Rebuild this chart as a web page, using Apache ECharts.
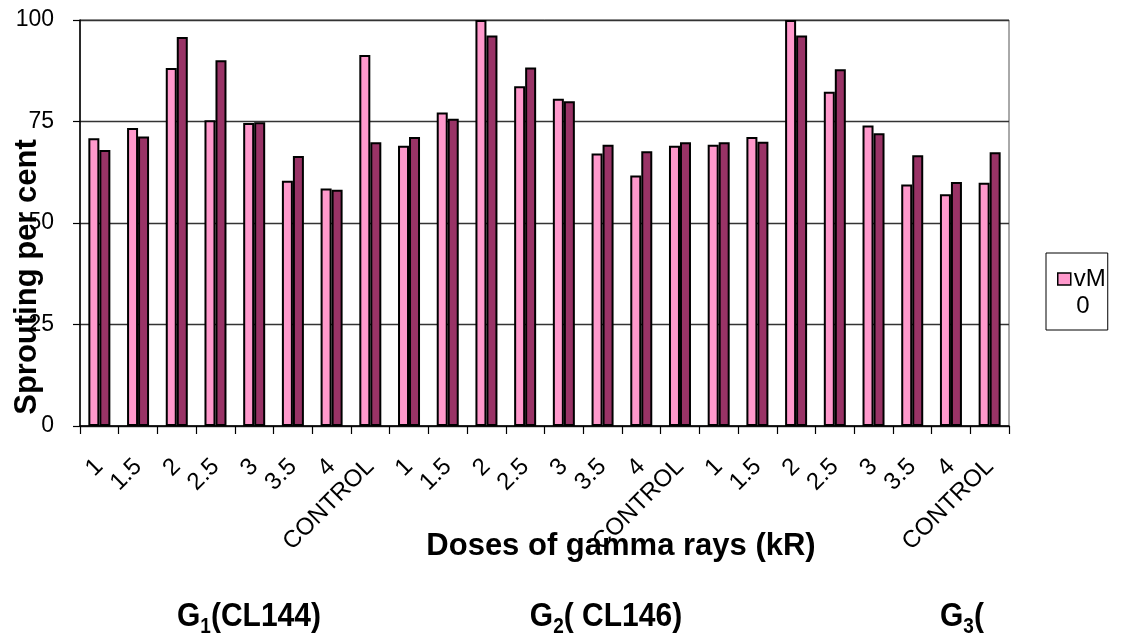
<!DOCTYPE html>
<html>
<head>
<meta charset="utf-8">
<script src="https://cdn.jsdelivr.net/npm/echarts@6/dist/echarts.min.js"></script>
<style>
html,body{margin:0;padding:0;background:#fff;}
#main{width:1122px;height:635px;}
</style>
</head>
<body>
<div id="main"></div>
<script>
// ---- data ----
var doses = ['1', '1.5', '2', '2.5', '3', '3.5', '4', 'CONTROL'];
var categories = doses.concat(doses, doses);
var seriesNames = ['vM0', 'vM1'];
var lightValues = [
  70.9, 73.4, 88.2, 75.3, 74.6, 60.4, 58.5, 91.4,
  69.0, 77.2, 100, 83.7, 80.6, 67.1, 61.7, 69.0,
  69.3, 71.2, 100, 82.3, 74.0, 59.5, 57.1, 59.9
];
var darkValues = [
  68.0, 71.3, 95.8, 90.1, 74.8, 66.5, 58.2, 69.9,
  71.2, 75.7, 96.2, 88.3, 80.0, 69.3, 67.7, 69.9,
  69.9, 70.0, 96.2, 87.9, 72.1, 66.7, 60.1, 67.4
];
var yTicks = [0, 25, 50, 75, 100];
var yTitle = 'Sprouting per cent';
var xTitle = 'Doses of gamma rays (kR)';
var groupLabels = [
  {g: 'G', sub: '1', rest: '(CL144)'},
  {g: 'G', sub: '2', rest: '( CL146)'},
  {g: 'G', sub: '3', rest: '('}
];

var FONT = 'Liberation Sans, Arial, sans-serif';
var chart = echarts.init(document.getElementById('main'), null, {renderer: 'canvas'});

function groupText(i) {
  var gl = groupLabels[i];
  return '{g|' + gl.g + '}{s|' + gl.sub + '}{g|' + gl.rest + '}';
}
var groupRich = {
  g: {fontFamily: FONT, fontWeight: 'bold', fontSize: 30, color: '#000', lineHeight: 34, verticalAlign: 'bottom'},
  s: {fontFamily: FONT, fontWeight: 'bold', fontSize: 19, color: '#000', lineHeight: 34, verticalAlign: 'bottom', padding: [0, 0, -4, 0]}
};

var option = {
  backgroundColor: '#fff',
  animation: false,
  grid: {
    left: 80, right: 113, top: 20, bottom: 209,
    show: true, borderColor: '#555', borderWidth: 1, backgroundColor: 'transparent'
  },
  legend: {
    data: [seriesNames[0]],
    left: 1046, top: 253,
    orient: 'vertical',
    backgroundColor: '#fff',
    borderColor: '#000', borderWidth: 1,
    padding: [14, 2, 39, 11],
    itemWidth: 13, itemHeight: 12,
    icon: 'rect',
    itemStyle: {borderColor: '#000', borderWidth: 1.5},
    formatter: function (n) { return 'vM'; },
    textStyle: {fontFamily: FONT, fontSize: 24, color: '#000', padding: [0, 0, 0, -2]}
  },
  xAxis: {
    type: 'category',
    data: categories,
    boundaryGap: true,
    axisLine: {lineStyle: {color: '#000', width: 1.5}},
    axisTick: {show: true, interval: 0, length: 8, lineStyle: {color: '#000', width: 1.2}},
    axisLabel: {
      interval: 0, rotate: 45, margin: 37,
      fontFamily: FONT, fontSize: 24, color: '#000'
    },
    splitLine: {show: false}
  },
  yAxis: {
    type: 'value',
    min: yTicks[0], max: yTicks[yTicks.length - 1], interval: 25,
    axisLine: {show: true, lineStyle: {color: '#000', width: 1.5}},
    axisTick: {show: true, length: 7, lineStyle: {color: '#000', width: 1.2}},
    axisLabel: {margin: 26, fontFamily: FONT, fontSize: 23, color: '#000'},
    splitLine: {show: true, lineStyle: {color: '#333', width: 1.3}}
  },
  series: [
    {
      name: seriesNames[0], type: 'bar', data: lightValues,
      barWidth: 11, barGap: '0%',
      itemStyle: {color: '#FF99CC', borderColor: '#000', borderWidth: 2}
    },
    {
      name: seriesNames[1], type: 'bar', data: darkValues,
      barWidth: 11, barGap: '0%',
      itemStyle: {color: '#993366', borderColor: '#000', borderWidth: 2}
    }
  ],
  graphic: [
    {
      type: 'text', x: 27, y: 277, rotation: Math.PI / 2, z: 100,
      style: {text: yTitle, font: 'bold 31px ' + FONT, fill: '#000', textAlign: 'center', textVerticalAlign: 'middle'}
    },
    {
      type: 'text', x: 621, y: 546, z: 0,
      style: {text: xTitle, font: 'bold 31px ' + FONT, fill: '#000', textAlign: 'center', textVerticalAlign: 'middle'}
    },
    {
      type: 'text', x: 1083, y: 306, z: 100, zlevel: 1,
      style: {text: '0', font: '24px ' + FONT, fill: '#000', textAlign: 'center', textVerticalAlign: 'middle'}
    },
    {
      type: 'text', x: 249, y: 595, scaleY: 1.12,
      style: {text: groupText(0), rich: groupRich, textAlign: 'center', textVerticalAlign: 'top'}
    },
    {
      type: 'text', x: 606, y: 595, scaleY: 1.12,
      style: {text: groupText(1), rich: groupRich, textAlign: 'center', textVerticalAlign: 'top'}
    },
    {
      type: 'text', x: 940, y: 595, scaleY: 1.12,
      style: {text: groupText(2), rich: groupRich, textAlign: 'left', textVerticalAlign: 'top'}
    }
  ]
};
chart.setOption(option);
</script>
</body>
</html>
